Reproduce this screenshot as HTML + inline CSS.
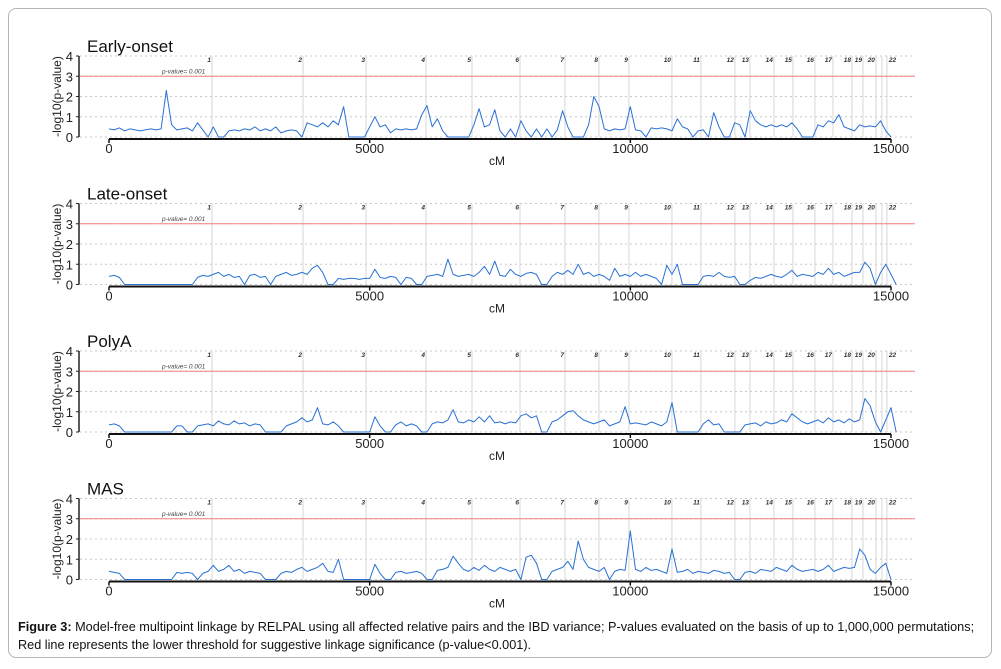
<!DOCTYPE html>
<html><head><meta charset="utf-8"><style>
body{margin:0;background:#fff;width:1001px;height:669px;overflow:hidden;font-family:"Liberation Sans",sans-serif}
#frame{position:absolute;left:8px;top:8px;width:984px;height:650px;border:1px solid #b5b5b5;border-radius:8px;box-sizing:border-box}
#cap{position:absolute;left:18px;top:618px;font-size:12.7px;line-height:18px;color:#111;width:975px;white-space:nowrap}
</style></head><body>
<div id="frame"></div>
<svg id="chart" width="1001" height="669" style="position:absolute;left:0;top:0"></svg>
<div id="cap"><b>Figure 3:</b> Model-free multipoint linkage by RELPAL using all affected relative pairs and the IBD variance; P-values evaluated on the basis of up to 1,000,000 permutations;<br>Red line represents the lower threshold for suggestive linkage significance (p-value&lt;0.001).</div>
<script>
const panelTitles=["Early-onset","Late-onset","PolyA","MAS"];
const xTicks=[0,5000,10000,15000];
const yTicks=[0,1,2,3,4];
const stepCM=100;
const chromBounds=[1976,3721,4930,6080,6963,7883,8746,9398,9973,10798,11354,12006,12294,12754,13119,13541,13886,14251,14462,14711,14826,14922];
const chromLabels=["1","2","3","4","5","6","7","8","9","10","11","12","13","14","15","16","17","18","19","20","","22"];
const threshold=3;
const earlyOnset=[0.4,0.35,0.45,0.3,0.4,0.35,0.3,0.35,0.4,0.35,0.4,2.3,0.6,0.35,0.4,0.45,0.3,0.7,0.35,0,0.5,0,0,0.3,0.35,0.3,0.4,0.35,0.5,0.3,0.4,0.3,0.5,0.2,0.3,0.35,0.3,0,0.7,0.6,0.5,0.7,0.5,0.8,0.6,1.5,0,0,0,0,0.5,1.0,0.5,0.6,0.2,0.4,0.35,0.4,0.35,0.4,1.1,1.55,0.5,0.9,0.3,0,0,0,0,0,0.6,1.4,0.5,0.6,1.35,0.3,0,0.4,0,0.8,0.3,0,0.4,0,0.4,0,0.35,1.3,0.5,0,0,0,0.6,2.0,1.5,0.4,0.3,0.4,0.35,0.4,1.5,0.35,0.3,0,0.45,0.4,0.45,0.4,0.3,0.9,0.5,0.4,0,0.3,0.35,0,1.2,0.5,0,0,0.7,0.6,0,1.3,0.8,0.6,0.5,0.6,0.5,0.6,0.5,0.7,0.4,0,0,0,0.6,0.5,0.8,0.7,1.1,0.5,0.4,0.3,0.6,0.5,0.55,0.5,0.8,0.3,0];
const lateOnset=[0.4,0.45,0.35,0,0,0,0,0,0,0,0,0,0,0,0,0,0,0.35,0.45,0.4,0.5,0.6,0.4,0.5,0.35,0.4,0,0.45,0.5,0.35,0.4,0,0.4,0.5,0.6,0.45,0.5,0.6,0.5,0.8,0.95,0.6,0,0,0.3,0.25,0.3,0.3,0.25,0.3,0.3,0.75,0.35,0.3,0.4,0.35,0,0.35,0.3,0,0,0.4,0.45,0.5,0.4,1.25,0.5,0.4,0.45,0.5,0.4,0.6,0.9,0.5,1.15,0.45,0.4,0.75,0.5,0.4,0.55,0.6,0.5,0,0,0.4,0.6,0.5,0.7,0.5,1.0,0.5,0.6,0.4,0.5,0.4,0.2,0.8,0.4,0.5,0.4,0.6,0.4,0.5,0.4,0.3,0,0.95,0.5,1.0,0,0,0,0,0.4,0.45,0.4,0.6,0.4,0.35,0.4,0,0,0.2,0.35,0.3,0.4,0.5,0.4,0.35,0.5,0.7,0.4,0.5,0.45,0.4,0.6,0.5,0.8,0.5,0.6,0.4,0.5,0.6,0.6,1.1,0.8,0,0.6,1.0,0.5,0];
const polyA=[0.35,0.4,0.3,0,0,0,0,0,0,0,0,0,0,0.3,0.3,0,0,0.3,0.35,0.4,0.3,0.55,0.4,0.35,0.55,0.4,0.45,0.3,0.4,0.35,0,0,0,0,0.3,0.4,0.5,0.7,0.5,0.6,1.2,0.4,0.35,0.5,0.3,0,0,0,0,0,0,0.75,0.3,0,0,0.35,0.5,0.3,0.4,0.3,0,0,0.4,0.5,0.45,0.6,1.1,0.5,0.45,0.6,0.5,0.75,0.5,0.8,0.45,0.5,0.4,0.5,0.45,0.8,0.9,0.7,0.8,0,0,0.5,0.6,0.8,1.0,1.05,0.8,0.6,0.5,0.4,0.5,0.6,0.3,0.4,0.5,1.25,0.4,0.45,0.4,0.35,0.5,0.4,0.3,0.5,1.45,0,0,0,0,0,0.4,0.6,0.35,0.4,0,0,0,0,0.35,0.4,0.45,0.3,0.5,0.4,0.45,0.6,0.5,0.9,0.7,0.5,0.4,0.5,0.6,0.45,0.7,0.5,0.6,0.45,0.65,0.5,0.6,1.65,1.3,0.5,0,0.6,1.2,0];
const mas=[0.4,0.35,0.3,0,0,0,0,0,0,0,0,0,0,0.35,0.3,0.35,0.3,0,0.3,0.4,0.7,0.4,0.5,0.7,0.4,0.5,0.3,0.4,0.35,0.3,0,0,0,0.3,0.4,0.35,0.5,0.6,0.4,0.5,0.6,0.8,0.4,0.35,1.0,0,0,0,0,0,0,0.75,0.3,0,0,0.35,0.4,0.3,0.35,0.4,0.3,0,0,0.45,0.5,0.6,1.15,0.8,0.5,0.4,0.6,0.45,0.7,0.5,0.4,0.6,0.5,0.4,0.5,0,1.1,1.2,0.8,0,0,0.4,0.5,0.6,0.9,0.5,1.9,1.0,0.6,0.5,0.4,0.6,0,0.4,0.5,0.45,2.4,0.5,0.4,0.6,0.45,0.5,0.4,0.3,1.5,0.35,0.4,0.5,0.3,0.4,0.35,0.3,0.45,0.4,0.3,0.35,0,0,0.35,0.4,0.3,0.5,0.45,0.4,0.6,0.5,0.4,0.7,0.5,0.4,0.45,0.5,0.4,0.5,0.7,0.4,0.5,0.6,0.55,0.6,1.5,1.2,0.5,0.3,0.6,0.8,0];
const seriesList=[earlyOnset,lateOnset,polyA,mas];

const NS="http://www.w3.org/2000/svg";
const svg=document.getElementById('chart');
const X0=109,X1=891,Y4=56,Y0b=137,panelGap=147.5,gridLeft=80,gridRight=915;
function xScale(cm){return X0+(cm/15000)*(X1-X0);}
function yScale(v,p){return Y0b+p*panelGap-(v/4)*(Y0b-Y4);}
function mk(tag,attrs,parent){const e=document.createElementNS(NS,tag);for(const k in attrs)e.setAttribute(k,attrs[k]);(parent||svg).appendChild(e);return e;}

panelTitles.forEach((title,p)=>{
  const g=mk('g',{});
  
  
  const off=p*panelGap;
  const t=mk('text',{x:87,y:52+off,'font-size':17,fill:'#111'},g);t.textContent=title;
  
  
  yTicks.forEach(v=>{
    const y=yScale(v,p);
    const gl=mk('line',{x1:gridLeft,x2:gridRight,y1:y,y2:y,stroke:'#c8c8c8','stroke-dasharray':'2,3','stroke-width':1},g);
    
    
    mk('line',{x1:76,x2:79,y1:y,y2:y,stroke:'#222'},g);
    const tl=mk('text',{x:73,y:y+5,'font-size':13,'text-anchor':'end',fill:'#222'},g);tl.textContent=v;
    
    
  });
  chromBounds.forEach((c,i)=>{
    const x=xScale(c);
    const vl=mk('line',{x1:x,x2:x,y1:Y4+off,y2:Y0b+off,stroke:'#d6d6d6','stroke-width':1},g);
    
    
    if(chromLabels[i]){
      const last=i===chromBounds.length-1;
      const cl=mk('text',{x:last?x+2:x-1,y:Y4+off+6,'font-size':6.5,'font-style':'italic','font-weight':'bold','text-anchor':last?'start':'end',fill:'#333'},g);cl.textContent=chromLabels[i];
      
      
    }
  });
  const ty=yScale(threshold,p);
  const th=mk('line',{x1:gridLeft,x2:gridRight,y1:ty,y2:ty,stroke:'#f08080','stroke-width':1},g);
  
  
  const tt=mk('text',{x:162,y:ty-3,'font-size':6.5,'font-style':'italic',fill:'#444'},g);tt.textContent='p-value= 0.001';
  
  
  const ya=mk('line',{x1:79,x2:79,y1:Y4+off,y2:Y0b+off,stroke:'#222','stroke-width':1.5},g);
  
  
  const yt=mk('text',{x:0,y:0,'font-size':12,'text-anchor':'middle',fill:'#222',transform:`translate(61,${(Y4+Y0b)/2+off}) rotate(-90)`},g);yt.textContent='-log10(p-value)';
  
  
  const ay=139+off;
  const xa=mk('line',{x1:X0,x2:X1,y1:ay,y2:ay,stroke:'#111','stroke-width':2},g);
  
  
  xTicks.forEach(v=>{
    const x=xScale(v);
    mk('line',{x1:x,x2:x,y1:ay,y2:ay+4,stroke:'#111','stroke-width':1.5},g);
    const xl=mk('text',{x:x,y:ay+14,'font-size':13,'text-anchor':'middle',fill:'#222'},g);xl.textContent=v;
    
    
  });
  const xt=mk('text',{x:497,y:ay+26,'font-size':12,'text-anchor':'middle',fill:'#222'},g);xt.textContent='cM';
  
  
  const data=seriesList[p];
  const pts=data.map((v,i)=>xScale(i*stepCM).toFixed(1)+','+yScale(v,p).toFixed(1)).join(' ');
  const pl=mk('polyline',{points:pts,fill:'none',stroke:'#2a72d4','stroke-width':1,'stroke-linejoin':'round'},g);
  
  
});
</script>
</body></html>
